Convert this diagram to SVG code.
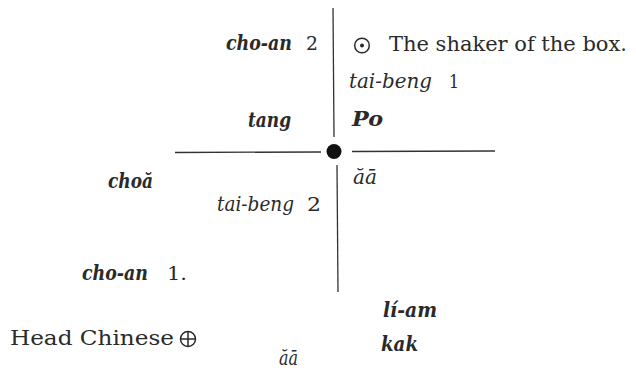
<svg xmlns="http://www.w3.org/2000/svg" width="636" height="370" viewBox="0 0 636 370">
<style>
text{font-family:"DejaVu Serif","Liberation Serif",serif;font-size:21px;fill:#2a2a2a}
.it{font-style:italic;font-weight:bold}
.i{font-style:italic}
.n{font-size:19px}
.ln{stroke:#333;stroke-width:1.3;fill:none}
.sym{fill:none;stroke:#2a2a2a;stroke-width:1.5}
</style>
<rect width="636" height="370" fill="#fff"/>
<g id="connectors">
<line class="ln" x1="333" y1="8" x2="334" y2="137"/>
<line class="ln" x1="337" y1="165" x2="338" y2="292"/>
<line class="ln" x1="175" y1="152.5" x2="321" y2="152"/>
<line class="ln" x1="352" y1="151.5" x2="495" y2="151"/>
</g>
<g id="center"><circle cx="334" cy="151.5" r="7.5" fill="#111"/></g>
<g id="cho-an-2"><text x="226" y="50"><tspan class="it" textLength="66" lengthAdjust="spacingAndGlyphs">cho-an</tspan><tspan class="n" x="306" textLength="12" lengthAdjust="spacingAndGlyphs">2</tspan></text></g>
<g id="shaker"><circle class="sym" cx="362" cy="45.5" r="7.3"/><circle cx="362" cy="45.5" r="2" fill="#2a2a2a"/>
<text x="389" y="51" textLength="238" lengthAdjust="spacingAndGlyphs">The shaker of the box.</text></g>
<g id="tai-beng-1"><text x="349" y="88"><tspan class="i" textLength="83" lengthAdjust="spacingAndGlyphs">tai-beng</tspan><tspan class="n" x="449" textLength="10" lengthAdjust="spacingAndGlyphs">1</tspan></text></g>
<g id="tang"><text class="it" x="248" y="127" textLength="43" lengthAdjust="spacingAndGlyphs">tang</text></g>
<g id="po"><text class="it" x="352" y="126" textLength="31" lengthAdjust="spacingAndGlyphs">Po</text></g>
<g id="choa"><text class="it" x="108" y="188" textLength="45" lengthAdjust="spacingAndGlyphs">choă</text></g>
<g id="aa1"><text class="i" x="353" y="184" textLength="24" lengthAdjust="spacingAndGlyphs">ăā</text></g>
<g id="tai-beng-2"><text x="217" y="211"><tspan class="i" textLength="77" lengthAdjust="spacingAndGlyphs">tai-beng</tspan><tspan class="n" x="307" textLength="14" lengthAdjust="spacingAndGlyphs">2</tspan></text></g>
<g id="cho-an-1"><text x="82" y="280"><tspan class="it" textLength="66" lengthAdjust="spacingAndGlyphs">cho-an</tspan><tspan class="n" x="167" textLength="20" lengthAdjust="spacingAndGlyphs">1.</tspan></text></g>
<g id="li-am"><text class="it" x="383" y="317" textLength="54" lengthAdjust="spacingAndGlyphs">lí-am</text></g>
<g id="head-chinese"><text x="10" y="345" textLength="164" lengthAdjust="spacingAndGlyphs">Head Chinese</text>
<circle class="sym" cx="188" cy="339" r="7.5"/><line class="sym" x1="180.5" y1="339" x2="195.5" y2="339"/><line class="sym" x1="188" y1="331.5" x2="188" y2="346.5"/></g>
<g id="kak"><text class="it" x="381" y="351" textLength="37" lengthAdjust="spacingAndGlyphs">kak</text></g>
<g id="aa2"><text class="i" x="279" y="365" textLength="19" lengthAdjust="spacingAndGlyphs">ăā</text></g>
</svg>
